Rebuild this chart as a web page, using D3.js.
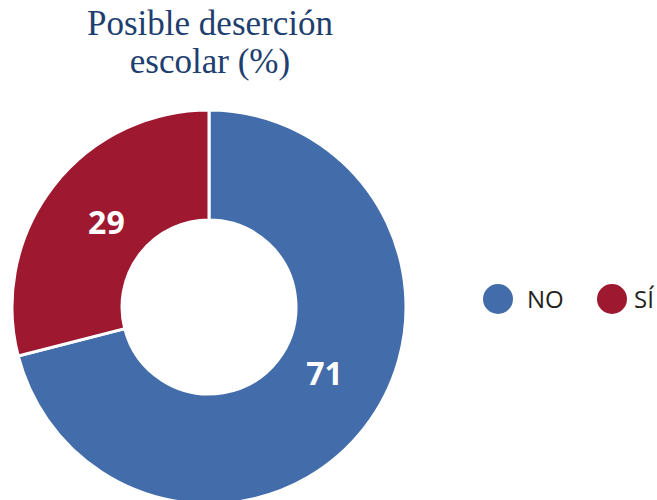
<!DOCTYPE html>
<html>
<head>
<meta charset="utf-8">
<script src="https://cdn.jsdelivr.net/npm/d3@7"></script>
<style>
  html, body { margin: 0; padding: 0; background: #fff; }
  svg { display: block; }
</style>
</head>
<body>
<svg id="chart" width="657" height="500"></svg>
<script>
// Survey answers: possible school dropout (%)
const categories = ["NO", "SÍ"];
const values = [71, 29];
const colors = ["#436DAA", "#9E1830"];
const titleLines = ["Posible deserción", "escolar (%)"];

const svg = d3.select("#chart");
const cx = 209, cy = 307, outerR = 197, innerR = 87;

// Title
svg.append("text")
  .attr("x", 210)
  .attr("y", 35)
  .attr("text-anchor", "middle")
  .attr("font-family", "'Liberation Serif', 'DejaVu Serif', serif")
  .attr("font-size", 35)
  .attr("fill", "#1E3E70")
  .selectAll("tspan")
  .data(titleLines)
  .join("tspan")
  .attr("x", 210)
  .attr("dy", (d, i) => i === 0 ? 0 : 38)
  .text(d => d);

const data = categories.map((c, i) => ({ cat: c, value: values[i], color: colors[i] }));

const pie = d3.pie().value(d => d.value).sort(null);
const arc = d3.arc().innerRadius(innerR).outerRadius(outerR);

const g = svg.append("g").attr("transform", `translate(${cx},${cy})`);
const arcs = pie(data);

g.selectAll("path")
  .data(arcs)
  .join("path")
  .attr("d", arc)
  .attr("fill", d => d.data.color)
  .attr("stroke", "#fff")
  .attr("stroke-width", 3);

// Value labels sit in the ring, nudged along the arc per slice
const labelR = 133;
const labelNudge = [-0.14, 0.03]; // radians
g.selectAll("text.val")
  .data(arcs)
  .join("text")
  .attr("class", "val")
  .attr("transform", (d, i) => {
    const a = (d.startAngle + d.endAngle) / 2 + labelNudge[i];
    return `translate(${labelR * Math.sin(a)},${-labelR * Math.cos(a)})`;
  })
  .attr("text-anchor", "middle")
  .attr("dy", "0.36em")
  .attr("font-family", "'Open Sans', 'Noto Sans', sans-serif")
  .attr("font-weight", 700)
  .attr("font-size", 32)
  .attr("fill", "#fff")
  .text(d => d.data.value);

// Legend
const legendTextDx = [29, 22];
const legend = svg.append("g")
  .selectAll("g")
  .data(data)
  .join("g")
  .attr("transform", (d, i) => `translate(${498 + i * 114},299)`);

legend.append("circle")
  .attr("r", 15)
  .attr("fill", d => d.color);

legend.append("text")
  .attr("x", (d, i) => legendTextDx[i])
  .attr("dy", "0.36em")
  .attr("font-family", "'Open Sans', 'Noto Sans', sans-serif")
  .attr("font-size", 24)
  .attr("fill", "#231F20")
  .text(d => d.cat);
</script>
</body>
</html>
